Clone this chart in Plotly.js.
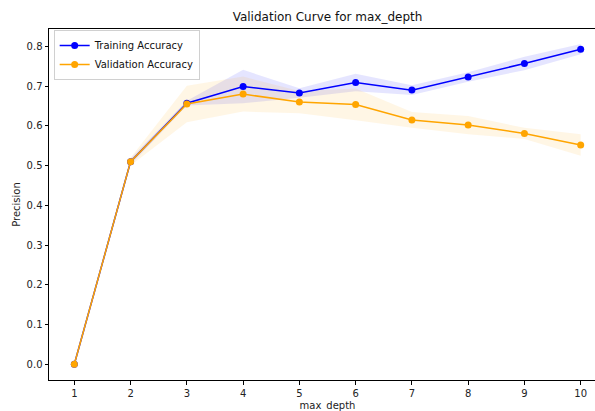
<!DOCTYPE html>
<html>
<head>
<meta charset="utf-8">
<script src="https://cdn.plot.ly/plotly-3.0.1.min.js"></script>
<style>
html, body { margin: 0; padding: 0; overflow: hidden; background: #fff; }
#chart { width: 640px; height: 440px; }
</style>
</head>
<body>
<div id="chart"></div>
<script>
const depths = [1, 2, 3, 4, 5, 6, 7, 8, 9, 10];
const trainMean = [0.0, 0.510, 0.657, 0.699, 0.683, 0.709, 0.690, 0.723, 0.757, 0.793];
const trainStd  = [0.0, 0.008, 0.006, 0.042, 0.012, 0.022, 0.012, 0.012, 0.017, 0.013];
const valMean   = [0.0, 0.510, 0.655, 0.680, 0.660, 0.654, 0.615, 0.602, 0.581, 0.552];
const valStd    = [0.0, 0.010, 0.046, 0.044, 0.028, 0.040, 0.020, 0.023, 0.014, 0.027];
const seriesNames = ['Training Accuracy', 'Validation Accuracy'];
const xTickLabels = ['1', '2', '3', '4', '5', '6', '7', '8', '9', '10'];

function band(mean, std) {
  const up = mean.map((m, i) => m + std[i]);
  const lo = mean.map((m, i) => m - std[i]);
  return {
    x: depths.concat(depths.slice().reverse()),
    y: up.concat(lo.slice().reverse())
  };
}
const tb = band(trainMean, trainStd);
const vb = band(valMean, valStd);

const traces = [
  { x: tb.x, y: tb.y, type: 'scatter', mode: 'lines', fill: 'toself',
    fillcolor: 'rgba(0,0,255,0.1)', line: { width: 0 }, showlegend: false, hoverinfo: 'skip' },
  { x: vb.x, y: vb.y, type: 'scatter', mode: 'lines', fill: 'toself',
    fillcolor: 'rgba(255,165,0,0.1)', line: { width: 0 }, showlegend: false, hoverinfo: 'skip' },
  { x: depths, y: trainMean, type: 'scatter', mode: 'lines+markers', name: seriesNames[0],
    line: { color: '#0000ff', width: 1.5 }, marker: { color: '#0000ff', size: 7 } },
  { x: depths, y: valMean, type: 'scatter', mode: 'lines+markers', name: seriesNames[1],
    line: { color: '#ffa500', width: 1.5 }, marker: { color: '#ffa500', size: 7 } }
];

const axisCommon = {
  showline: true, linecolor: '#000', linewidth: 1, mirror: true,
  ticks: 'outside', ticklen: 3.5, tickwidth: 1, tickcolor: '#000',
  showgrid: false, zeroline: false,
  tickfont: { family: 'DejaVu Sans', size: 10, color: '#222' }
};

const layout = {
  width: 640, height: 440,
  margin: { l: 49, r: 34, t: 29, b: 60 },
  paper_bgcolor: '#fff', plot_bgcolor: '#fff',
  font: { family: 'DejaVu Sans', size: 10, color: '#222' },
  title: { text: 'Validation Curve for max_depth', font: { family: 'DejaVu Sans', size: 12, color: '#111' },
           x: 0.5, xref: 'paper', xanchor: 'center', y: 1 - 17 / 440, yref: 'container', yanchor: 'middle' },
  xaxis: Object.assign({}, axisCommon, {
    range: [0.55, 10.45], tickmode: 'array', tickvals: depths, ticktext: xTickLabels,
    title: { text: 'max_depth', font: { family: 'DejaVu Sans', size: 10, color: '#222' }, standoff: 4 }
  }),
  yaxis: Object.assign({}, axisCommon, {
    range: [-0.0395, 0.8438], dtick: 0.1, tick0: 0, tickformat: '.1f',
    title: { text: 'Precision', font: { family: 'DejaVu Sans', size: 10, color: '#222' }, standoff: 4 }
  }),
  legend: {
    x: 0.0084, y: 0.997, xanchor: 'left', yanchor: 'top',
    bgcolor: 'rgba(255,255,255,0.8)', bordercolor: '#d0d0d0', borderwidth: 1,
    font: { family: 'DejaVu Sans', size: 10, color: '#111' },
    tracegroupgap: 0, itemwidth: 30
  },
  showlegend: true
};

Plotly.newPlot('chart', traces, layout, { staticPlot: true, displayModeBar: false });
</script>
</body>
</html>
